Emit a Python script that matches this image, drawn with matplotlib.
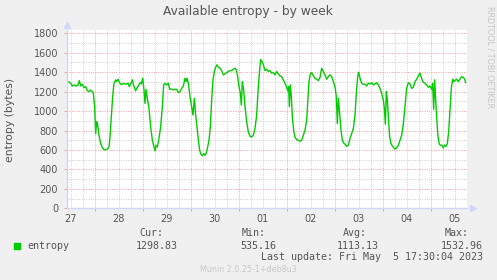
import matplotlib
matplotlib.use("Agg")
import matplotlib.pyplot as plt

# hours since the start of the graph (Apr 27 ~10:00), 30 min per pixel
hours = [
    0.1, 1.25, 2.08, 2.92, 3.75, 4.58, 5.75, 6.42, 7.08, 7.92, 8.75, 9.58,
    10.42, 11.25, 12.08, 12.92, 13.42, 14.08, 14.58, 15.08, 15.58, 16.25,
    17.08, 17.92, 18.75, 19.58, 20.42, 21.25, 21.75, 22.42, 23.08, 23.75,
    24.58, 25.08, 25.75, 26.75, 27.42, 28.42, 29.58, 30.75, 31.42, 32.08,
    32.92, 33.75, 34.58, 35.42, 36.25, 36.75, 37.42, 38.08, 38.75, 39.25,
    39.75, 40.42, 41.25, 42.08, 42.92, 43.75, 44.25, 44.75, 45.42, 46.08,
    47.08, 47.92, 48.58,
    49.25, 50.08, 50.92, 51.58, 52.58, 53.42, 54.25, 55.08, 55.92, 56.75,
    57.58, 58.42, 59.25, 59.75, 60.25, 60.92, 61.75, 62.58, 63.25, 63.92,
    64.58, 65.25, 65.92, 66.58, 67.25, 67.92, 68.58, 69.25, 69.92, 70.58,
    71.25, 71.92, 72.58, 73.25, 73.92, 74.58, 75.25, 75.92, 76.75, 77.58,
    78.42, 79.25, 80.08, 80.92, 81.75, 82.58, 83.42, 84.25, 84.92, 85.58,
    86.25, 86.92, 87.42, 87.92, 88.58, 89.25, 90.08, 90.92, 91.75, 92.58,
    93.42, 94.25, 95.08, 95.92, 96.58, 97.08, 97.75, 98.42,
    99.25, 100.08, 100.92, 101.75, 102.58, 103.42, 104.25, 105.08, 105.92,
    106.75, 107.58, 108.42, 109.25, 110.08, 110.58, 111.08, 111.42, 111.92,
    112.42, 112.92, 113.58, 114.25, 115.08, 115.92, 116.75, 117.58, 118.42,
    119.25, 120.08, 120.58, 121.25, 121.92, 122.58, 123.42, 124.25, 125.08,
    125.92, 126.75, 127.58, 128.42, 129.25, 130.08, 130.92, 131.75, 132.58,
    133.42, 134.25, 134.92, 135.42, 135.92, 136.58, 137.25, 137.92, 138.58,
    139.25, 140.08, 140.92, 141.75, 142.58, 143.42, 144.25, 144.92, 145.58,
    146.08, 146.75, 147.58, 148.42,
    149.25, 150.08, 150.92, 151.75, 152.58, 153.42, 154.25, 155.08, 155.92,
    156.75, 157.58, 158.42, 158.92, 159.42, 159.92, 160.42, 160.92, 161.58,
    162.25, 162.92, 163.58, 164.25, 165.08, 165.92, 166.75, 167.58, 168.42,
    169.25, 170.08, 170.92, 171.75, 172.58, 173.42, 174.25, 175.08, 175.92,
    176.75, 177.25, 177.92, 178.58, 179.25, 180.08, 180.92, 181.75, 182.58,
    183.08, 183.58, 184.08, 184.58, 185.08, 185.75, 186.42, 187.08, 187.75,
    188.42, 189.08, 189.75, 190.42, 191.08, 191.75, 192.42, 193.08, 193.58,
    194.25, 195.08, 195.92, 196.75, 197.58, 198.42, 199.08, 199.58,
]
entropy = [
    1300, 1300, 1286, 1258, 1269, 1258, 1265, 1314, 1258, 1276, 1241, 1252,
    1210, 1200, 1217, 1200, 1183, 1045, 769, 890, 855, 752,
    666, 624, 603, 603, 607, 631, 734, 941, 1148, 1286,
    1321, 1303, 1328, 1286, 1272, 1286, 1276, 1286, 1252, 1279,
    1321, 1252, 1210, 1245, 1269, 1293, 1279, 1338, 1217, 1079,
    1224, 1131, 1028, 838, 700, 631, 590, 648, 631, 700,
    838, 1045, 1269,
    1286, 1269, 1286, 1224, 1227, 1217, 1224, 1224, 1190, 1200,
    1234, 1258, 1338, 1303, 1338, 1286, 1148, 1045, 959, 1131,
    959, 838, 700, 597, 555, 540, 562, 545, 569, 631,
    700, 838, 1114, 1321, 1407, 1452, 1476, 1452, 1441, 1417,
    1372, 1383, 1396, 1407, 1417, 1417, 1431, 1441, 1424, 1355,
    1252, 1183, 1062, 1303, 1217, 1045, 890, 786, 741, 734,
    752, 821, 959, 1252, 1424, 1530, 1510, 1476,
    1417, 1431, 1407, 1417, 1390, 1396, 1372, 1407, 1383,
    1362, 1355, 1321, 1286, 1245, 1210, 1252, 1045, 1269,
    1148, 941, 803, 728, 707, 700, 690, 700, 752,
    803, 907, 1079, 1303, 1383, 1396, 1362, 1338, 1328,
    1314, 1345, 1441, 1407, 1372, 1328, 1355, 1372, 1355,
    1303, 1252, 1148, 872, 1131, 976, 803, 700, 672,
    659, 638, 648, 717, 769, 821, 959, 1183, 1355,
    1400, 1338, 1286, 1276,
    1276, 1258, 1286, 1279, 1293, 1269, 1279, 1293, 1269,
    1234, 1183, 1114, 1028, 866, 1200, 1114, 941, 734,
    666, 641, 624, 610, 621, 648, 700, 752, 872,
    1045, 1234, 1293, 1279, 1234, 1245, 1303, 1328, 1362,
    1390, 1355, 1314, 1293, 1286, 1269, 1245, 1258, 1224,
    1286, 1017, 1321, 1114, 941, 734, 659, 648, 648,
    621, 648, 638, 666, 786, 1010, 1234, 1328, 1303,
    1314, 1328, 1303, 1328, 1355, 1345, 1328, 1293,
]

day_labels = ["27", "28", "29", "30", "01", "02", "03", "04", "05"]
first_midnight = 14  # hours after start
y_major = list(range(0, 1801, 200))
y_minor = list(range(100, 1801, 200))

stat_names = ["Cur:", "Min:", "Avg:", "Max:"]
stat_values = ["1298.83", "535.16", "1113.13", "1532.96"]

TXT = "#555555"
AXIS = "#CFD6F8"
MGRID = "#F2A0A0"
GRID = "#CCCCCC"
LINE = "#00CC00"

fig = plt.figure(figsize=(4.97, 2.8), dpi=100, facecolor="#F0F0F0")
W, H = 497, 280
ax = fig.add_axes([66.5 / W, (H - 208.3) / H, 400.5 / W, (208.3 - 30) / H])
ax.set_facecolor("white")
ax.set_xlim(0, 200.25)
ax.set_ylim(0, 1834)

dots = (0, (1.0, 1.4))
# minor grid: every 6 hours, every 100 bytes
for h in range(first_midnight - 12, 201, 6):
    if (h - first_midnight) % 24 != 0:
        ax.axvline(h, color=GRID, lw=0.7, linestyle=dots, zorder=1)
for v in y_minor:
    ax.axhline(v, color=GRID, lw=0.7, linestyle=dots, zorder=1)
# major grid: midnights and every 200 bytes
midnights = list(range(first_midnight, 201, 24))
for h in midnights:
    ax.axvline(h, color=MGRID, lw=0.7, linestyle=dots, zorder=2)
for v in y_major[1:]:
    ax.axhline(v, color=MGRID, lw=0.7, linestyle=dots, zorder=2)

ax.plot(hours, entropy, color=LINE, lw=1.0, zorder=3)

for s in ["top", "right"]:
    ax.spines[s].set_visible(False)
for s in ["left", "bottom"]:
    ax.spines[s].set_color(AXIS)
    ax.spines[s].set_linewidth(1.0)
    ax.spines[s].set_zorder(4)

# axis arrows
ax.plot([0], [1.03], marker="^", ms=4, color=AXIS, transform=ax.transAxes,
        clip_on=False, zorder=5)
ax.plot([1.015], [0], marker=">", ms=4, color=AXIS, transform=ax.transAxes,
        clip_on=False, zorder=5)

ax.set_yticks(y_major)
ax.set_yticklabels([str(v) for v in y_major])
ax.set_xticks(midnights)
ax.set_xticklabels([])
ax.set_xticks([first_midnight - 12 + 24 * k for k in range(len(day_labels))],
              minor=True)
ax.set_xticklabels(day_labels, minor=True)
ax.tick_params(axis="y", which="major", length=2, width=0.7, color=MGRID,
               labelsize=7, labelcolor=TXT, pad=4)
ax.tick_params(axis="x", which="major", length=2, width=0.7, color=MGRID)
ax.tick_params(axis="x", which="minor", length=0, labelsize=7,
               labelcolor=TXT, pad=4)

fig.text(248 / W, 1 - 11 / H, "Available entropy - by week", ha="center",
         va="center", fontsize=8.8, color=TXT)
fig.text(10 / W, 1 - 120 / H, "entropy (bytes)", ha="center", va="center",
         rotation=90, fontsize=7.8, color=TXT)
fig.text(490 / W, 1 - 57 / H, "RRDTOOL / TOBI OETIKER", ha="center",
         va="center", rotation=270, fontsize=5.8, color="#C4C4C4")

# legend block
mono = "DejaVu Sans Mono"
fig.patches.append(plt.Rectangle((14 / W, 1 - 249 / H), 6 / W, 6 / H,
                                 transform=fig.transFigure, color=LINE))
fig.text(27 / W, 1 - 246 / H, "entropy", ha="left", va="center",
         family=mono, fontsize=7.2, color=TXT)
name_right = [163, 266, 367, 469]
value_right = [178, 276, 379, 483]
for nm, val, xn, xv in zip(stat_names, stat_values, name_right, value_right):
    fig.text(xn / W, 1 - 233 / H, nm, ha="right", va="center", family=mono,
             fontsize=7.2, color=TXT)
    fig.text(xv / W, 1 - 246 / H, val, ha="right", va="center", family=mono,
             fontsize=7.2, color=TXT)
fig.text(483 / W, 1 - 257 / H, "Last update: Fri May  5 17:30:04 2023",
         ha="right", va="center", family=mono, fontsize=7.2, color=TXT)
fig.text(248 / W, 1 - 269 / H, "Munin 2.0.25-1+deb8u3", ha="center",
         va="center", fontsize=5.8, color="#C8C8C8")

fig.savefig("out.png", dpi=100, facecolor=fig.get_facecolor())
